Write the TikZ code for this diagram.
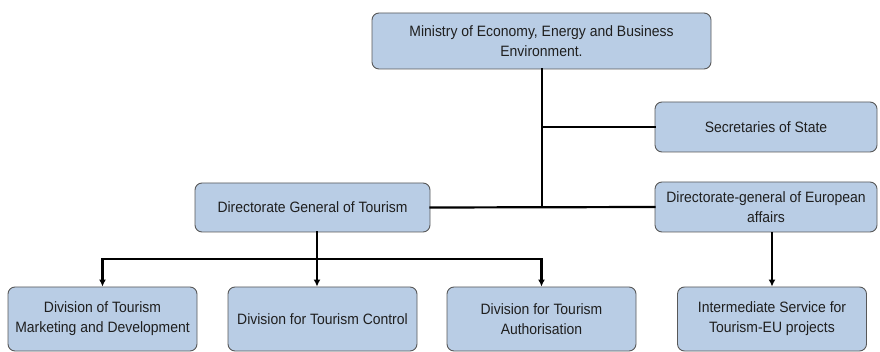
\documentclass[tikz,border=0pt]{standalone}
\usepackage{fontspec}
\setmainfont[FakeStretch=0.93]{Liberation Sans}
\usetikzlibrary{arrows.meta}

\definecolor{unitfill}{HTML}{B9CDE5}
\definecolor{unitline}{HTML}{585858}

\begin{document}
\begin{tikzpicture}[x=1pt,y=-1pt,
  unit/.style={draw=unitline, fill=unitfill, rounded corners=7pt, line width=0.9pt,
    align=center, inner sep=0pt, text=black!88, font=\fontsize{15}{20}\selectfont},
  link/.style={line width=2.2pt, line cap=rect},
  feed/.style={line width=2.2pt, -{Latex[length=7pt,width=7pt]}}]

  \useasboundingbox (0,0) rectangle (880,352);

  % Top level and its two staff units
  \node[unit, minimum width=339pt, minimum height=56pt] (ministry) at (541.5, 41)
    {Ministry of Economy, Energy and Business\\Environment.};
  \node[unit, minimum width=222pt, minimum height=50pt] (secretaries) at (766, 127)
    {Secretaries of State};

  % Directorates
  \node[unit, minimum width=235pt, minimum height=49pt] (dgtourism) at (312.5, 207.5)
    {Directorate General of Tourism};
  \node[unit, minimum width=222pt, minimum height=50pt] (dgeurope) at (766, 207)
    {Directorate-general of European\\affairs};

  % Divisions
  \foreach \nm/\xc/\Lb in {divmarket/102.5/{Division of Tourism\\Marketing and Development},
                           divcontrol/322.5/{Division for Tourism Control},
                           divauth/541.5/{Division for Tourism\\Authorisation},
                           eusvc/772/{Intermediate Service for\\Tourism-EU projects}}{
    \node[unit, minimum width=189pt, minimum height=64pt] (\nm) at (\xc, 319) {\Lb};
  }

  % Connectors
  \coordinate (hub) at (542, 207);
  \coordinate (split) at (317, 259);

  \draw[link] (ministry.south -| hub) -- (hub);
  \draw[link] (hub |- secretaries.west) -- (secretaries.west);
  \draw[link] (dgtourism.east) -- (dgeurope.west);
  \draw[link] (split |- dgtourism.south) -- (split);
  \draw[link] (split -| divmarket.north) -- (split -| divauth.north);

  \draw[feed] (split -| divmarket.north) -- (divmarket.north);
  \draw[feed] (split) -- (split |- divcontrol.north);
  \draw[feed] (split -| divauth.north) -- (divauth.north);
  \draw[feed] (dgeurope.south -| eusvc.north) -- (eusvc.north);

\end{tikzpicture}
\end{document}
